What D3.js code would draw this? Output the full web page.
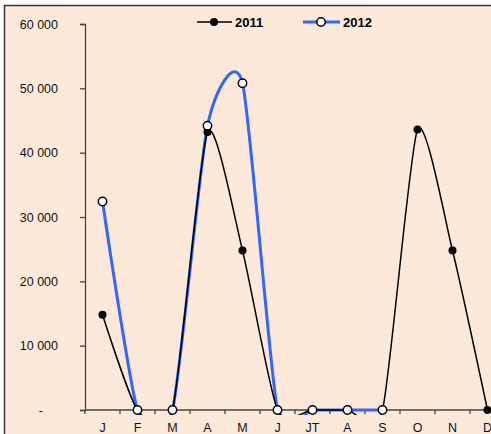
<!DOCTYPE html>
<html><head><meta charset="utf-8">
<script src="https://cdn.jsdelivr.net/npm/d3@7"></script>
<style>body{margin:0;background:#fff}svg{display:block}text{font-family:"Liberation Sans",Arial,sans-serif}</style>
</head><body>
<svg id="c" width="491" height="434"></svg>
<script>
const months = ["J","F","M","A","M","J","JT","A","S","O","N","D"];
const values2011 = [14800,0,0,43200,24800,0,0,0,0,43600,24800,0];
const values2012 = [32400,0,0,44200,50800,0,0,0,0,null,null,null];
const yTicks = [0,10000,20000,30000,40000,50000,60000];
const yTickLabels = ["-","10 000","20 000","30 000","40 000","50 000","60 000"];
const seriesNames = ["2011","2012"];

const svg = d3.select("#c");
svg.append("rect").attr("x",4.5).attr("y",5.5).attr("width",500).attr("height",440)
  .attr("fill","#FDE9DA").attr("stroke","#333").attr("stroke-width",1.5);

const x0 = 85, yTop = 24, yBot = 410, bw = 35;
const x = d3.scaleBand().domain(d3.range(12)).range([x0, x0 + 12*bw]);
const y = d3.scaleLinear().domain([0,60000]).range([yBot, yTop]);

// axes
const gy = svg.append("g").attr("transform",`translate(${x0},0)`)
  .call(d3.axisLeft(y).tickValues(yTicks).tickSize(5).tickFormat((d,i)=>yTickLabels[i]));
gy.select(".domain").attr("stroke","#444").attr("stroke-width",1.3);
gy.selectAll(".tick line").attr("stroke","#444").attr("stroke-width",1.3);
gy.selectAll(".tick text").attr("x",-27).attr("font-size",12.5).attr("fill","#111")
  .attr("font-family","Liberation Sans, Arial, sans-serif")
  .filter(d=>d===0).attr("x",-42);

const gx = svg.append("g").attr("transform",`translate(0,${yBot})`);
gx.append("line").attr("x1",x0).attr("x2",x0+12*bw).attr("stroke","#444").attr("stroke-width",1.3);
gx.selectAll("line.t").data(d3.range(13)).join("line").attr("class","t")
  .attr("x1",i=>x0+i*bw).attr("x2",i=>x0+i*bw).attr("y1",0).attr("y2",4)
  .attr("stroke","#444").attr("stroke-width",1.3);
gx.selectAll("text").data(months).join("text")
  .attr("x",(d,i)=>x(i)+x.bandwidth()/2).attr("y",22).attr("text-anchor","middle")
  .attr("font-size",12.5).attr("fill","#111").text(d=>d);

svg.append("clipPath").attr("id","clip").append("rect")
  .attr("x",x0).attr("y",0).attr("width",500).attr("height",415);

const cx = i => x(i)+x.bandwidth()/2;
const line = d3.line().defined(d=>d!=null).x((d,i)=>cx(i)).y(d=>y(d)).curve(d3.curveCardinal.tension(0.35));
const plot = svg.append("g").attr("clip-path","url(#clip)");
plot.append("path").datum(values2012).attr("d",line).attr("fill","none").attr("stroke","#3366FF").attr("stroke-width",3);
plot.append("path").datum(values2011).attr("d",line).attr("fill","none").attr("stroke","#000").attr("stroke-width",1.5);

svg.append("g").selectAll("circle").data(values2011.map((v,i)=>[v,i])).join("circle")
  .attr("cx",d=>cx(d[1])).attr("cy",d=>y(d[0])).attr("r",4).attr("fill","#000");
svg.append("g").selectAll("circle").data(values2012.map((v,i)=>[v,i]).filter(d=>d[0]!=null)).join("circle")
  .attr("cx",d=>cx(d[1])).attr("cy",d=>y(d[0])).attr("r",4.2).attr("fill","#fff").attr("stroke","#000").attr("stroke-width",1.5);

// legend
const lg = svg.append("g");
lg.append("line").attr("x1",197).attr("x2",232).attr("y1",22).attr("y2",22).attr("stroke","#000").attr("stroke-width",1.5);
lg.append("circle").attr("cx",214).attr("cy",22).attr("r",4).attr("fill","#000");
lg.append("text").attr("x",235).attr("y",27).attr("font-size",13).attr("font-weight","bold").text(seriesNames[0]);
lg.append("line").attr("x1",303).attr("x2",340).attr("y1",22).attr("y2",22).attr("stroke","#3366FF").attr("stroke-width",3);
lg.append("circle").attr("cx",321).attr("cy",22).attr("r",4.2).attr("fill","#fff").attr("stroke","#000").attr("stroke-width",1.5);
lg.append("text").attr("x",343).attr("y",27).attr("font-size",13).attr("font-weight","bold").text(seriesNames[1]);
</script>
</body></html>
